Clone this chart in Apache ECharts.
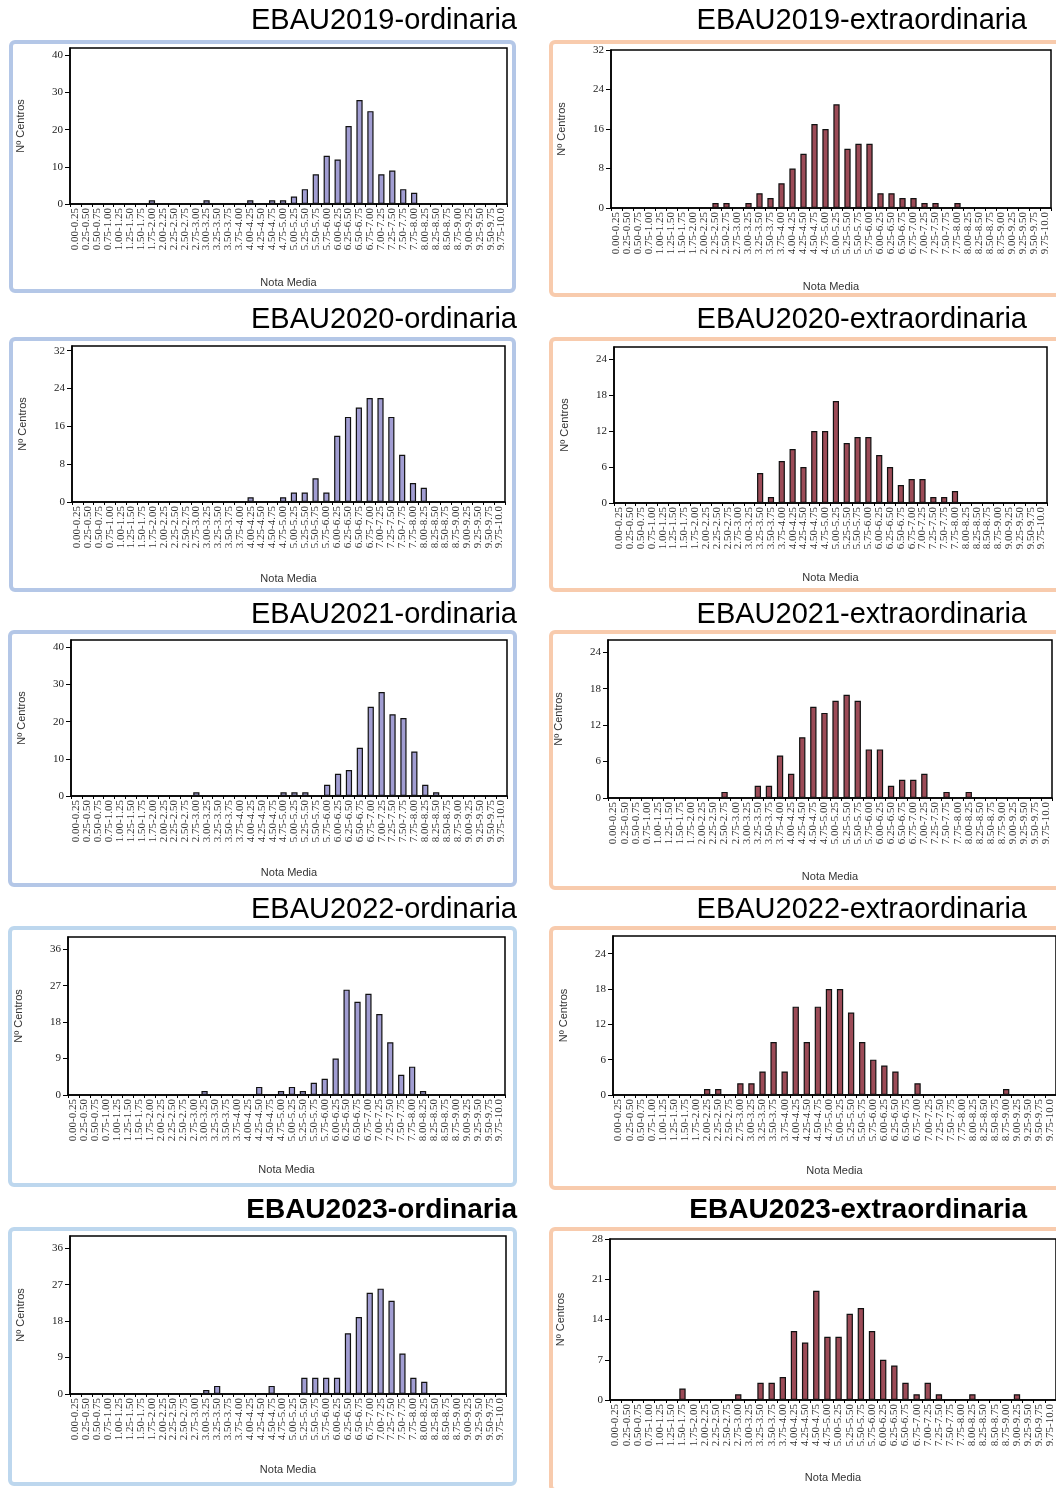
<!DOCTYPE html>
<html>
<head>
<meta charset="utf-8">
<script src="https://cdn.jsdelivr.net/npm/echarts@6/dist/echarts.min.js"></script>
<style>
html, body { margin: 0; padding: 0; background: #fff; }
#chart { width: 1056px; height: 1488px; }
</style>
</head>
<body>
<div id="chart"></div>
<script>
// categorias de nota media (eje x)
const categories = [
  "0.00-0.25", "0.25-0.50", "0.50-0.75", "0.75-1.00", "1.00-1.25", "1.25-1.50", "1.50-1.75", "1.75-2.00",
  "2.00-2.25", "2.25-2.50", "2.50-2.75", "2.75-3.00", "3.00-3.25", "3.25-3.50", "3.50-3.75", "3.75-4.00",
  "4.00-4.25", "4.25-4.50", "4.50-4.75", "4.75-5.00", "5.00-5.25", "5.25-5.50", "5.50-5.75", "5.75-6.00",
  "6.00-6.25", "6.25-6.50", "6.50-6.75", "6.75-7.00", "7.00-7.25", "7.25-7.50", "7.50-7.75", "7.75-8.00",
  "8.00-8.25", "8.25-8.50", "8.50-8.75", "8.75-9.00", "9.00-9.25", "9.25-9.50", "9.50-9.75", "9.75-10.0"
];

// Nº centros por intervalo
const ord2019 = [0,0,0,0,0,0,0,1,0,0, 0,0,1,0,0,0,1,0,1,1, 2,4,8,13,12,21,28,25,8,9, 4,3,0,0,0,0,0,0,0,0];
const ext2019 = [0,0,0,0,0,0,0,0,0,1, 1,0,1,3,2,5,8,11,17,16, 21,12,13,13,3,3,2,2,1,1, 0,1,0,0,0,0,0,0,0,0];
const ord2020 = [0,0,0,0,0,0,0,0,0,0, 0,0,0,0,0,0,1,0,0,1, 2,2,5,2,14,18,20,22,22,18, 10,4,3,0,0,0,0,0,0,0];
const ext2020 = [0,0,0,0,0,0,0,0,0,0, 0,0,0,5,1,7,9,6,12,12, 17,10,11,11,8,6,3,4,4,1, 1,2,0,0,0,0,0,0,0,0];
const ord2021 = [0,0,0,0,0,0,0,0,0,0, 0,1,0,0,0,0,0,0,0,1, 1,1,0,3,6,7,13,24,28,22, 21,12,3,1,0,0,0,0,0,0];
const ext2021 = [0,0,0,0,0,0,0,0,0,0, 1,0,0,2,2,7,4,10,15,14, 16,17,16,8,8,2,3,3,4,0, 1,0,1,0,0,0,0,0,0,0];
const ord2022 = [0,0,0,0,0,0,0,0,0,0, 0,0,1,0,0,0,0,2,0,1, 2,1,3,4,9,26,23,25,20,13, 5,7,1,0,0,0,0,0,0,0];
const ext2022 = [0,0,0,0,0,0,0,0,1,1, 0,2,2,4,9,4,15,9,15,18, 18,14,9,6,5,4,0,2,0,0, 0,0,0,0,0,1,0,0,0,0];
const ord2023 = [0,0,0,0,0,0,0,0,0,0, 0,0,1,2,0,0,0,0,2,0, 0,4,4,4,4,15,19,25,26,23, 10,4,3,0,0,0,0,0,0,0];
const ext2023 = [0,0,0,0,0,0,2,0,0,0, 0,1,0,3,3,4,12,10,19,11, 11,15,16,12,7,6,3,1,3,1, 0,0,1,0,0,0,1,0,0,0];

// marcas del eje y
const ticks10 = [0, 10, 20, 30, 40];
const ticks8 = [0, 8, 16, 24, 32];
const ticks6 = [0, 6, 12, 18, 24];
const ticks9 = [0, 9, 18, 27, 36];
const ticks7 = [0, 7, 14, 21, 28];

// col 0 = ordinaria (izq), col 1 = extraordinaria (der)
const panels = [
  { title: "EBAU2019-ordinaria", data: ord2019, ticks: ticks10, max: 42, col: 0, titleY: 21, box: [11, 42, 503, 249], plot: [70, 48, 507, 204], xGap: 73 },
  { title: "EBAU2019-extraordinaria", data: ext2019, ticks: ticks8, max: 32, col: 1, titleY: 21, box: [551, 42, 540, 253], plot: [611, 50, 1051, 208], xGap: 73 },
  { title: "EBAU2020-ordinaria", data: ord2020, ticks: ticks8, max: 33, col: 0, titleY: 320, box: [11, 339, 503, 251], plot: [72, 346, 505, 502], xGap: 71 },
  { title: "EBAU2020-extraordinaria", data: ext2020, ticks: ticks6, max: 26, col: 1, titleY: 320, box: [551, 339, 540, 251], plot: [614, 347, 1047, 503], xGap: 69 },
  { title: "EBAU2021-ordinaria", data: ord2021, ticks: ticks10, max: 42, col: 0, titleY: 615, box: [10, 632, 505, 253], plot: [71, 640, 507, 796], xGap: 71 },
  { title: "EBAU2021-extraordinaria", data: ext2021, ticks: ticks6, max: 26, col: 1, titleY: 615, box: [551, 632, 540, 256], plot: [608, 640, 1052, 798], xGap: 73 },
  { title: "EBAU2022-ordinaria", data: ord2022, ticks: ticks9, max: 39, col: 0, titleY: 910, box: [10, 928, 505, 257], plot: [68, 937, 505, 1095], xGap: 69, light: true },
  { title: "EBAU2022-extraordinaria", data: ext2022, ticks: ticks6, max: 27, col: 1, titleY: 910, box: [551, 928, 540, 260], plot: [613, 936, 1058, 1095], xGap: 70 },
  { title: "EBAU2023-ordinaria", data: ord2023, ticks: ticks9, max: 39, col: 0, titleY: 1210, box: [10, 1229, 505, 255], plot: [70, 1236, 506, 1394], xGap: 70, light: true, bold: true },
  { title: "EBAU2023-extraordinaria", data: ext2023, ticks: ticks7, max: 28, col: 1, titleY: 1210, box: [551, 1229, 540, 261], plot: [610, 1239, 1059, 1400], xGap: 72, bold: true }
];

var myChart = echarts.init(document.getElementById("chart"));

var grid = [], xAxis = [], yAxis = [], series = [], graphic = [];

panels.forEach((p, i) => {
  const left = p.col === 0;
  // marco del panel
  graphic.push({
    type: "rect",
    z: -10,
    shape: { x: p.box[0], y: p.box[1], width: p.box[2], height: p.box[3], r: 4 },
    style: { fill: "none", stroke: left ? (p.light ? "#bdd7ee" : "#b4c7e7") : "#f8cbad", lineWidth: 4 }
  });
  // titulo
  graphic.push({
    type: "text",
    x: left ? 517 : 1027,
    y: p.titleY,
    style: {
      text: p.title,
      fontSize: p.bold ? 28 : 29,
      fontWeight: p.bold ? "bold" : "normal",
      fontFamily: "Liberation Sans, Arial, sans-serif",
      fill: "#000",
      align: "right",
      verticalAlign: "middle"
    }
  });
  grid.push({
    left: p.plot[0],
    top: p.plot[1],
    width: p.plot[2] - p.plot[0],
    height: p.plot[3] - p.plot[1],
    show: true,
    borderColor: "#000",
    borderWidth: 1.5,
    backgroundColor: "transparent"
  });
  xAxis.push({
    type: "category",
    gridIndex: i,
    data: categories,
    name: "Nota Media",
    nameLocation: "middle",
    nameGap: p.xGap,
    nameTextStyle: { fontSize: 11, color: "#333", fontFamily: "Liberation Sans, Arial" },
    axisLine: { lineStyle: { color: "#000", width: 1.5 } },
    axisTick: { show: true, length: 3, lineStyle: { color: "#000" } },
    axisLabel: {
      interval: 0,
      rotate: 90,
      margin: 4,
      fontSize: 11,
      color: "#333",
      fontFamily: "Liberation Serif, Times New Roman, serif"
    }
  });
  yAxis.push({
    type: "value",
    gridIndex: i,
    min: 0,
    max: p.max,
    name: "Nº Centros",
    nameLocation: "middle",
    nameGap: 44,
    nameTextStyle: { fontSize: 11, color: "#333", fontFamily: "Liberation Sans, Arial" },
    axisLine: { show: true, lineStyle: { color: "#000", width: 1.5 } },
    axisTick: { show: true, length: 5, customValues: p.ticks, lineStyle: { color: "#000" } },
    axisLabel: {
      customValues: p.ticks,
      margin: 7,
      fontSize: 11,
      color: "#222",
      fontFamily: "Liberation Serif, Times New Roman, serif"
    },
    splitLine: { show: false }
  });
  series.push({
    type: "bar",
    xAxisIndex: i,
    yAxisIndex: i,
    data: p.data,
    barWidth: "57%",
    animation: false,
    itemStyle: {
      color: left ? "#a19dd2" : "#9c4b57",
      borderColor: "#111",
      borderWidth: 1.2
    }
  });
});

var option = {
  backgroundColor: "#fff",
  animation: false,
  grid: grid,
  xAxis: xAxis,
  yAxis: yAxis,
  series: series,
  graphic: graphic
};

myChart.setOption(option);
</script>
</body>
</html>
